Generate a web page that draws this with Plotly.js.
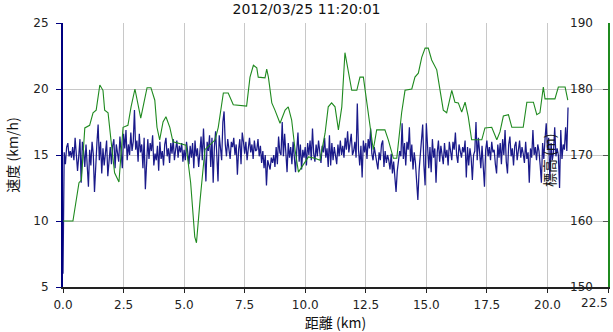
<!DOCTYPE html>
<html>
<head>
<meta charset="utf-8">
<script src="https://cdn.plot.ly/plotly-3.0.1.min.js"></script>
<style>html,body{margin:0;padding:0;background:#fff;}#chart{width:613px;height:332px;}</style>
</head>
<body>
<div id="chart"></div>
<script>
// Chart title and axis texts
const chartTitle = "2012/03/25 11:20:01";
const xTitle = "距離 (km)";
const yTitle = "速度 (km/h)";
const y2Title = "標高 (m)";
const xTickVals = [0, 2.5, 5, 7.5, 10, 12.5, 15, 17.5, 20, 22.5];
const xTickText = ["0.0", "2.5", "5.0", "7.5", "10.0", "12.5", "15.0", "17.5", "20.0", "22.5"];
const y2TickVals = [150, 160, 170, 180, 190];

// Speed samples (km/h), one every 0.05 km
const speedStep = 0.05;
const speed = [
  6.0, 15.2, 14.3, 15.6, 15.9, 14.9, 15.3, 14.8, 15.6, 14.6, 16.3, 15.0, 13.8, 14.9, 16.2, 12.9, 16.0, 15.3, 14.1, 15.8,
  13.5, 12.6, 15.4, 14.2, 16.0, 15.1, 12.2, 14.8, 15.9, 17.3, 14.6, 16.0, 13.6, 15.5, 14.2, 15.1, 16.1, 13.4, 14.8, 15.6,
  14.3, 15.7, 16.2, 14.0, 15.8, 15.1, 14.5, 16.4, 15.2, 14.0, 16.6, 15.5, 16.9, 14.6, 15.8, 15.0, 16.7, 15.3, 16.0, 18.4,
  15.4, 16.1, 14.5, 16.6, 15.2, 15.8, 14.0, 16.3, 12.4, 15.0, 16.2, 14.7, 15.9, 15.3, 16.5, 14.2, 15.1, 14.6, 15.7, 13.8,
  16.0, 14.7, 15.3, 14.2, 15.8, 16.3, 14.9, 15.5, 14.4, 15.9, 15.1, 16.2, 14.6, 15.4, 16.1, 14.8, 15.7, 15.2, 15.9, 14.5,
  15.4, 14.6, 16.0, 15.2, 14.3, 15.7, 14.8, 15.9, 14.0, 16.1, 14.9, 15.5, 14.1, 15.2, 16.4, 14.6, 17.0, 15.0, 13.0, 16.0,
  15.3, 16.5, 14.1, 16.3, 12.9, 15.6, 16.8, 15.0, 13.0, 16.5, 15.2, 14.6, 17.5, 18.3, 15.8, 14.9, 16.2, 15.5, 14.7, 16.0,
  15.6, 16.3, 15.0, 15.8, 13.5, 15.4, 16.2, 14.3, 16.7, 16.0, 15.1, 16.0, 14.6, 15.5, 16.3, 15.2, 15.8, 14.7, 16.1, 15.3,
  15.4, 16.2, 14.9, 15.7, 14.4, 15.3, 14.0, 15.0, 12.7, 14.6, 14.2, 13.9, 14.8, 14.4, 15.0, 14.1, 15.6, 14.3, 16.4, 15.2,
  15.0, 17.5, 14.9, 16.6, 15.2, 13.7, 15.9, 14.8, 15.6, 14.3, 16.0, 14.6, 13.7, 15.3, 16.7, 14.5, 15.8, 13.9, 15.4, 14.8,
  15.6, 14.2, 15.9, 15.0, 16.1, 14.6, 17.0, 15.1, 14.5, 15.8, 14.9, 16.1, 15.3, 14.4, 15.7, 15.2, 16.3, 14.8, 15.5, 14.1,
  16.5, 14.2, 15.9, 14.6, 15.6, 15.1, 14.3, 15.8, 14.9, 16.1, 15.0, 15.7, 14.8, 16.3, 15.4, 16.8, 15.2, 15.9, 16.6, 15.0,
  15.3, 16.0, 14.8, 18.9, 15.4, 14.2, 15.7, 13.3, 16.1, 15.2, 15.9, 14.7, 16.2, 15.5, 17.0, 15.1, 14.6, 15.6, 14.9, 14.4,
  13.9, 15.2, 14.6, 15.8, 16.1, 14.1, 15.3, 14.4, 15.0, 14.6, 13.9, 15.1, 13.6, 14.5, 13.2, 12.2, 13.8, 14.4, 15.3, 14.9,
  17.4, 14.7, 15.9, 14.2, 16.0, 15.4, 17.1, 14.5, 15.8, 13.9, 15.2, 14.4, 13.3, 11.6, 13.8, 15.0, 16.6, 17.3, 14.2, 12.7,
  17.4, 15.1, 14.0, 15.6, 13.7, 16.2, 14.8, 15.5, 12.9, 15.2, 16.1, 14.5, 15.7, 15.0, 14.3, 15.9, 14.8, 15.4, 14.2, 16.0,
  15.1, 14.6, 16.0, 15.4, 16.7, 15.0, 14.4, 15.8, 15.3, 14.8, 15.6, 15.2, 16.1, 13.3, 15.6, 14.2, 15.5, 14.8, 13.1, 15.0,
  15.3, 17.5, 14.6, 16.3, 15.2, 14.0, 15.7, 13.8, 12.6, 15.4, 16.1, 14.9, 15.6, 14.6, 16.0, 15.2, 15.4, 14.3, 13.6, 15.8,
  14.8, 15.9, 14.3, 16.2, 15.0, 16.9, 14.5, 13.6, 15.8, 16.4, 14.9, 15.5, 14.2, 15.7, 16.0, 14.6, 15.3, 16.1, 14.8, 15.6,
  15.1, 14.4, 16.0, 14.7, 15.2, 12.9, 15.5, 14.8, 16.9, 15.0, 15.6, 14.6, 15.8, 15.3, 14.2, 12.9, 15.9, 14.7, 16.2, 17.4,
  15.4, 16.3, 13.1, 15.9, 14.6, 15.2, 17.1, 14.9, 15.5, 15.0, 12.5, 16.9, 14.7, 15.8, 15.4, 17.1, 15.3, 18.6
];

// Elevation profile (km, m)
const elevDist = [
  0, 0.41, 0.66, 0.76, 0.90, 1.10, 1.24, 1.37, 1.52, 1.65, 1.72, 1.86, 1.98, 2.13, 2.31, 2.48, 2.68, 2.81, 2.97, 3.10,
  3.21, 3.34, 3.47, 3.63, 3.79, 3.88, 3.99, 4.13, 4.25, 4.41, 4.54, 5.08, 5.27, 5.44, 5.51, 5.66, 5.86, 6.28, 6.41, 6.62,
  6.82, 7.03, 7.58, 7.72, 7.86, 8.00, 8.06, 8.34, 8.41, 8.48, 8.62, 8.75, 8.96, 9.17, 9.30, 9.44, 9.58, 9.72, 9.86, 10.13,
  10.40, 10.61, 10.82, 10.95, 11.09, 11.23, 11.37, 11.51, 11.64, 11.78, 11.92, 12.13, 12.26, 12.40, 12.54, 12.68, 12.81, 12.95, 13.29, 13.43,
  13.64, 13.78, 13.98, 14.12, 14.40, 14.53, 14.67, 14.81, 14.95, 15.08, 15.22, 15.43, 15.57, 15.70, 15.84, 15.98, 16.05, 16.18, 16.32, 16.46,
  16.60, 16.73, 16.87, 17.29, 17.42, 17.70, 17.91, 18.04, 18.18, 18.39, 18.53, 19.00, 19.15, 19.42, 19.56, 19.69, 19.83, 19.90, 20.31, 20.45,
  20.73, 20.84
];
const elevation = [
  160.0, 160.0, 165.8, 166.2, 174.1, 174.5, 176.4, 176.8, 180.6, 179.8, 176.8, 176.4, 172.3, 167.3, 165.9, 174.2, 174.5, 177.3, 180.0, 177.3,
  175.6, 177.9, 180.2, 180.2, 178.3, 174.2, 172.3, 175.0, 175.8, 174.2, 172.0, 171.5, 165.8, 157.6, 156.7, 163.2, 170.8, 172.3, 174.2, 179.4,
  179.4, 177.6, 177.4, 181.8, 183.6, 183.2, 181.8, 181.7, 183.0, 181.8, 177.9, 176.8, 174.8, 176.8, 177.3, 175.3, 170.8, 167.4, 168.2, 169.7,
  169.5, 169.2, 173.3, 177.3, 177.9, 177.3, 173.8, 177.3, 185.5, 182.4, 179.8, 179.8, 181.8, 181.8, 178.3, 174.2, 170.8, 173.8, 173.8, 172.3,
  169.5, 169.5, 176.4, 179.8, 180.0, 181.8, 182.4, 184.8, 186.2, 186.2, 184.4, 182.9, 179.8, 176.8, 176.4, 178.8, 179.8, 178.0, 177.9, 176.5,
  178.0, 175.8, 172.3, 172.3, 174.1, 174.2, 172.3, 173.5, 175.9, 176.1, 174.2, 174.2, 178.0, 178.0, 176.1, 176.4, 180.3, 178.5, 178.5, 180.3,
  180.3, 178.3
];

const speedDist = speed.map((_, i) => +(i * speedStep).toFixed(2));

const traces = [
  {
    x: elevDist, y: elevation, type: 'scatter', mode: 'lines', yaxis: 'y2',
    line: {color: '#1f8a1f', width: 1.1}, hoverinfo: 'skip', showlegend: false
  },
  {
    x: speedDist, y: speed, type: 'scatter', mode: 'lines', yaxis: 'y',
    line: {color: '#1a1a8a', width: 1.25}, hoverinfo: 'skip', showlegend: false
  }
];

const tickFont = {family: 'DejaVu Sans, Verdana, sans-serif', size: 12, color: '#222'};
const cjkFont = {family: 'Noto Sans CJK JP, sans-serif', size: 14, color: '#111'};

// Right-axis labels sit inside the plot, left of the green axis line (drawn in y2 data units)
const y2Labels = y2TickVals.map(v => ({
  text: String(v), x: (593 - 63) / 545, xref: 'paper', xanchor: 'right',
  y: v, yref: 'y2', yanchor: 'middle', showarrow: false, font: tickFont, borderpad: 0, borderwidth: 0
}));
// Last x label is pulled left so it stays inside the figure
const lastX = xTickVals[xTickVals.length - 1];
const xEndLabel = {
  text: xTickText[xTickText.length - 1], x: lastX, xref: 'x', xanchor: 'right',
  y: 5, yref: 'y', yanchor: 'top', yshift: -9, showarrow: false, font: tickFont, borderpad: 0, borderwidth: 0
};

const layout = {
  width: 613, height: 332,
  margin: {l: 63, r: 5, t: 23, b: 45, pad: 0},
  paper_bgcolor: '#fff', plot_bgcolor: '#fff',
  showlegend: false,
  title: {
    text: chartTitle, font: {family: 'DejaVu Sans, Verdana, sans-serif', size: 14, color: '#111'},
    x: 0.5, xanchor: 'center', xref: 'container', y: 1 - 9 / 332, yref: 'container', yanchor: 'middle'
  },
  xaxis: {
    range: [0, lastX], tickvals: xTickVals, ticktext: xTickText.slice(0, -1).concat(['']),
    showgrid: true, gridcolor: '#c8c8c8', gridwidth: 1, zeroline: false,
    showline: true, linecolor: '#222', linewidth: 2,
    ticks: 'outside', ticklen: 4, tickcolor: '#222', tickwidth: 1,
    ticklabelstandoff: 2,
    tickfont: tickFont, automargin: false,
    title: {text: xTitle, font: cjkFont, standoff: 4}
  },
  yaxis: {
    range: [5, 25], dtick: 5, tick0: 5,
    showgrid: true, gridcolor: '#c8c8c8', gridwidth: 1, zeroline: false,
    showline: true, linecolor: '#000080', linewidth: 2,
    ticks: 'outside', ticklen: 5, tickcolor: '#000080', tickwidth: 1,
    ticklabelstandoff: 5,
    tickfont: tickFont, automargin: false,
    title: {text: yTitle, font: cjkFont, standoff: 11}
  },
  yaxis2: {
    range: [150, 190], tickvals: y2TickVals,
    overlaying: 'y', side: 'right', anchor: 'x',
    showgrid: false, zeroline: false,
    showline: true, linecolor: '#1f8a1f', linewidth: 2,
    ticks: 'inside', ticklen: 5, tickcolor: '#555', tickwidth: 1,
    showticklabels: false, automargin: false
  },
  annotations: y2Labels.concat([xEndLabel, {
    text: y2Title, textangle: -90, font: cjkFont,
    xref: 'paper', yref: 'paper', x: (549 - 63) / 545, y: (287 - 160) / 264,
    xanchor: 'center', yanchor: 'middle', showarrow: false
  }])
};

Plotly.newPlot('chart', traces, layout, {displayModeBar: false, staticPlot: true});
</script>
</body>
</html>
